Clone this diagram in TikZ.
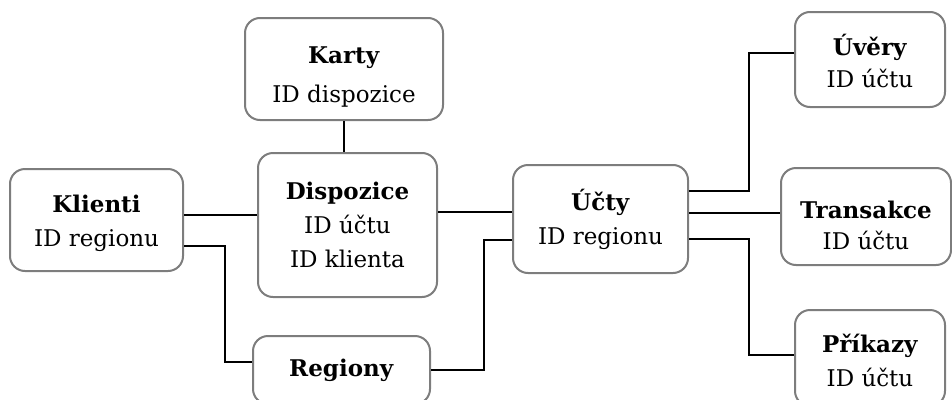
\documentclass[tikz,border=0pt]{standalone}
\usepackage{fontspec}
\setmainfont{DejaVu Serif}
\usepackage{tikz}
\usetikzlibrary{calc}
\definecolor{boxgray}{RGB}{125,125,125}
\tikzset{%
  entity/.style={%
    draw=boxgray,
    line width=2pt,
    rounded corners=15pt,
    fill=white,
    align=center,
    inner sep=0pt,
    font=\fontsize{23}{34}\selectfont
  },
  link/.style={%
    line width=2pt,
    black
  }
}

\begin{document}
\begin{tikzpicture}[x=1pt,y=-1pt]
  \clip (0,0) rectangle (952,399);
  \node [entity,minimum width=198pt,minimum height=102pt] (karty) at (344, 69) {\textbf{Karty}\rule{0pt}{33pt}\\[5pt]ID dispozice};
  \node [entity,minimum width=173pt,minimum height=102pt] (klienti) at (96.5, 220) {\textbf{Klienti}\rule{0pt}{25pt}\\ID regionu};
  \node [entity,minimum width=179pt,minimum height=144pt] (dispozice) at (347.5, 225) {\textbf{Dispozice}\\ID účtu\\ID klienta};
  \node [entity,minimum width=175pt,minimum height=108pt] (ucty) at (600.5, 219) {\textbf{Účty}\\ID regionu};
  \node [entity,minimum width=177pt,minimum height=68pt] (regiony) at (341.5, 370) {\textbf{Regiony}};
  \node [entity,minimum width=150pt,minimum height=95pt] (uvery) at (870, 59.5) {\textbf{Úvěry}\rule{0pt}{24pt}\\[-2pt]ID účtu};
  \node [entity,minimum width=170pt,minimum height=97pt] (transakce) at (866, 216.5) {\textbf{Transakce}\rule{0pt}{35pt}\\[-3pt]ID účtu};
  \node [entity,minimum width=150pt,minimum height=96pt] (prikazy) at (870, 358) {\textbf{Příkazy}\rule{0pt}{24pt}\\ID účtu};
  \draw [link] (karty.south) -- (karty.south |- dispozice.north);
  \draw [link] (klienti.east |- 0,215) -- (dispozice.west |- 0,215);
  \draw [link] (klienti.east |- 0,246) -| (225,362) -- (regiony.west |- 0,362);
  \draw [link] (regiony.east |- 0,370) -| (484,240) -- (ucty.west |- 0,240);
  \draw [link] (dispozice.east |- 0,212) -- (ucty.west |- 0,212);
  \draw [link] (ucty.east |- 0,191) -| (749,53) -- (uvery.west |- 0,53);
  \draw [link] (ucty.east |- 0,213) -- (transakce.west |- 0,213);
  \draw [link] (ucty.east |- 0,239) -| (749,355) -- (prikazy.west |- 0,355);
\end{tikzpicture}
\end{document}
